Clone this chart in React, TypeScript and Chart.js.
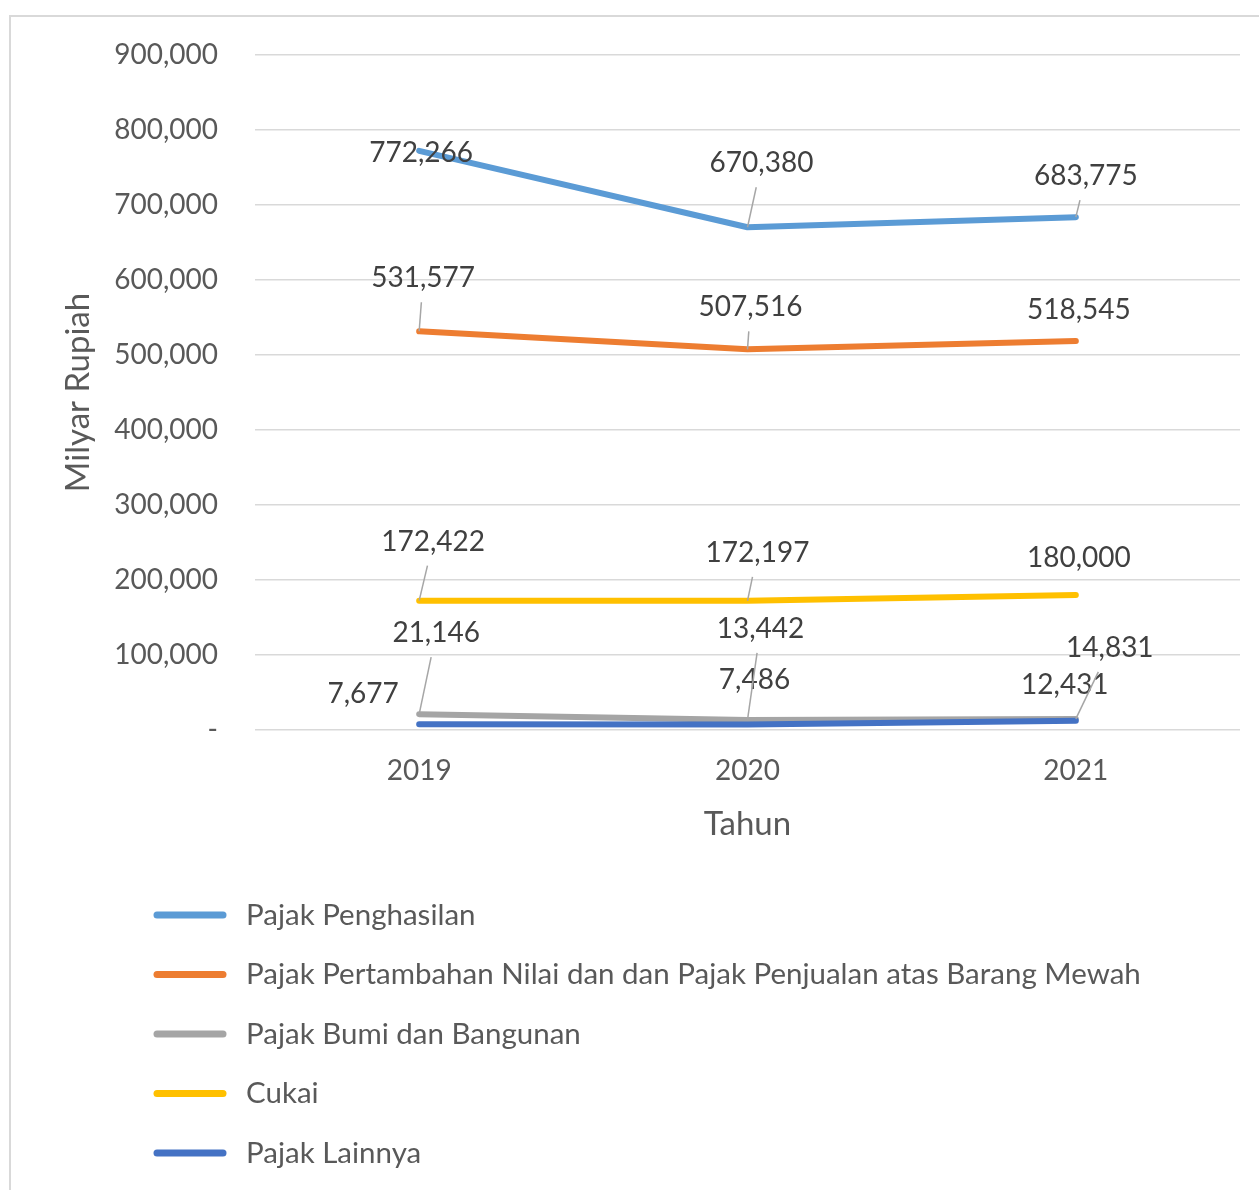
import React, { useEffect, useRef } from 'react';
import { Chart, registerables } from 'chart.js';

Chart.register(...registerables);

// ---- Data ----
const years = ['2019', '2020', '2021'];
const seriesNames = [
  'Pajak Penghasilan',
  'Pajak Pertambahan Nilai dan dan Pajak Penjualan atas Barang Mewah',
  'Pajak Bumi dan Bangunan',
  'Cukai',
  'Pajak Lainnya',
];
const pajakPenghasilan = [772266, 670380, 683775];
const pajakPertambahanNilai = [531577, 507516, 518545];
const pajakBumiBangunan = [21146, 13442, 14831];
const cukai = [172422, 172197, 180000];
const pajakLainnya = [7677, 7486, 12431];
const seriesValues = [pajakPenghasilan, pajakPertambahanNilai, pajakBumiBangunan, cukai, pajakLainnya];
const seriesColors = ['#5B9BD5', '#ED7D31', '#A5A5A5', '#FFC000', '#4472C4'];
const yMax = 900000;
const yStep = 100000;

// Label placement (offset from the point in px, and whether a leader line is drawn)
const labelOffsets: [number, number, boolean][][] = [
  [[2, 2, false], [14, -64, true], [10, -41, true]],
  [[4, -53, true], [3, -42, true], [3, -31, false]],
  [[17, -81, true], [13, -91, true], [34, -71, true]],
  [[14, -59, true], [10, -48, true], [3, -37, false]],
  [[-56, -30, false], [7, -44, false], [-11, -36, false]],
];

const FONT = 'Lato, "Open Sans", sans-serif';

const fmt = (v: number) => v.toLocaleString('en-US');

const backgroundPlugin = {
  id: 'bgBorder',
  beforeDraw(chart: any) {
    const { ctx, width, height } = chart;
    ctx.save();
    ctx.fillStyle = '#ffffff';
    ctx.fillRect(0, 0, width, height);
    ctx.strokeStyle = '#d9d9d9';
    ctx.lineWidth = 2;
    ctx.strokeRect(10, 16, width + 20, height + 20);
    ctx.restore();
  },
};

const labelsPlugin = {
  id: 'valueLabels',
  afterDatasetsDraw(chart: any) {
    const { ctx } = chart;
    ctx.save();
    ctx.font = `28px ${FONT}`;
    ctx.fillStyle = '#404040';
    ctx.textAlign = 'center';
    ctx.textBaseline = 'middle';
    const leaders: number[][] = [];
    chart.data.datasets.forEach((ds: any, di: number) => {
      const meta = chart.getDatasetMeta(di);
      meta.data.forEach((pt: any, i: number) => {
        const [dx, dy, leader] = labelOffsets[di][i];
        const cx = pt.x + dx;
        const cy = pt.y + dy;
        ctx.fillText(fmt(ds.data[i]), cx, cy);
        if (leader) {
          const endY = cy + 24;
          const frac = (pt.y - endY) / (pt.y - cy);
          const endX = pt.x + frac * (cx - pt.x);
          leaders.push([pt.x, pt.y, endX, endY]);
        }
      });
    });
    ctx.strokeStyle = '#a6a6a6';
    ctx.lineWidth = 1.5;
    leaders.forEach(([x1, y1, x2, y2]) => {
      ctx.beginPath();
      ctx.moveTo(x1, y1);
      ctx.lineTo(x2, y2);
      ctx.stroke();
    });
    ctx.restore();
  },
};

const legendPlugin = {
  id: 'customLegend',
  afterDraw(chart: any) {
    const { ctx } = chart;
    ctx.save();
    ctx.font = `29.5px ${FONT}`;
    ctx.textAlign = 'left';
    ctx.textBaseline = 'middle';
    seriesNames.forEach((name, i) => {
      const y = 915 + i * 59.5;
      ctx.strokeStyle = seriesColors[i];
      ctx.lineWidth = 7;
      ctx.lineCap = 'round';
      ctx.beginPath();
      ctx.moveTo(157, y);
      ctx.lineTo(223, y);
      ctx.stroke();
      ctx.fillStyle = '#595959';
      ctx.fillText(name, 246, y);
    });
    ctx.restore();
  },
};

export default function App() {
  const ref = useRef<HTMLCanvasElement | null>(null);
  useEffect(() => {
    if (!ref.current) return;
    const chart = new Chart(ref.current, {
      type: 'line',
      data: {
        labels: years,
        datasets: seriesNames.map((name, i) => ({
          label: name,
          data: seriesValues[i],
          borderColor: seriesColors[i],
          backgroundColor: seriesColors[i],
          borderWidth: 6,
          borderCapStyle: 'round',
          borderJoinStyle: 'round',
          pointRadius: 0,
          pointHoverRadius: 0,
          tension: 0,
          order: seriesNames.length - i,
        })),
      },
      options: {
        responsive: false,
        animation: false,
        devicePixelRatio: 1,
        layout: { padding: { left: 0, right: 19, top: 55, bottom: 330 } },
        plugins: {
          legend: { display: false },
          tooltip: { enabled: false },
          title: { display: false },
        },
        scales: {
          x: {
            type: 'category',
            offset: true,
            grid: { display: false, drawTicks: false },
            border: { display: false },
            ticks: { color: '#595959', font: { family: FONT, size: 28 }, padding: 24 },
            title: {
              display: true,
              text: 'Tahun',
              color: '#595959',
              font: { family: FONT, size: 33 },
              padding: { top: 0, bottom: 16 },
            },
            afterFit: (scale: any) => { scale.height = 130; },
          },
          y: {
            min: 0,
            max: yMax,
            grid: { color: '#d9d9d9', lineWidth: 1.5, drawTicks: false },
            border: { display: false },
            ticks: {
              stepSize: yStep,
              color: '#595959',
              font: { family: FONT, size: 28 },
              padding: 37,
              callback: (v: any) => (Number(v) === 0 ? '-' : fmt(Number(v))),
            },
            title: {
              display: true,
              text: 'Milyar Rupiah',
              color: '#595959',
              font: { family: FONT, size: 33 },
              padding: { top: 59, bottom: 0 },
            },
            afterFit: (scale: any) => { scale.width = 255; },
          },
        },
      },
      plugins: [backgroundPlugin, labelsPlugin, legendPlugin],
    } as any);
    return () => chart.destroy();
  }, []);
  return (
    <div style={{ position: 'absolute', left: 0, top: 0, width: 1259, height: 1190 }}>
      <canvas ref={ref} width={1259} height={1190} />
    </div>
  );
}
